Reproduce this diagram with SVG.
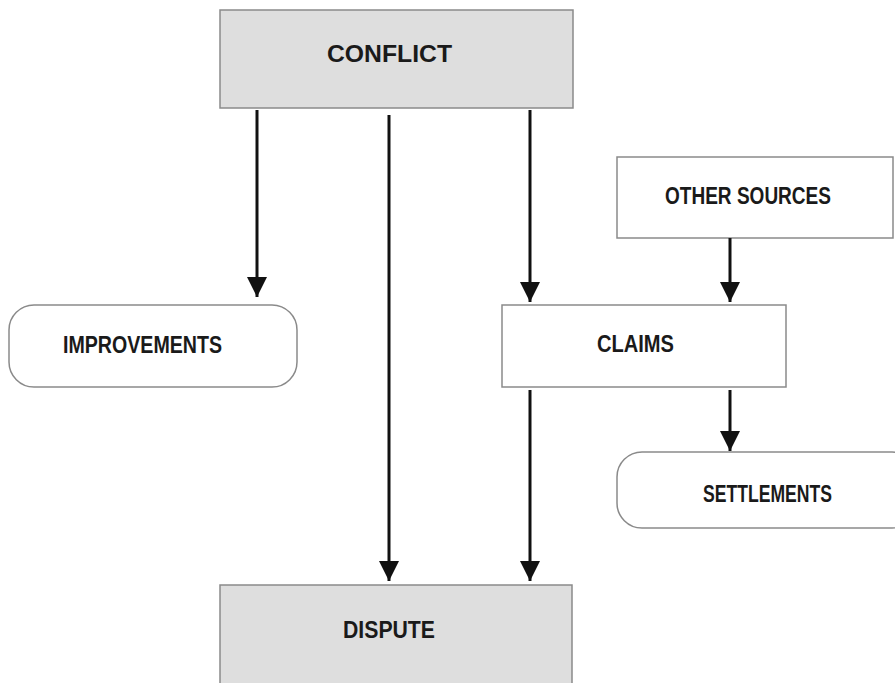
<svg xmlns="http://www.w3.org/2000/svg" width="895" height="683" viewBox="0 0 895 683">
<defs>
<style>
.box{fill:#ffffff;stroke:#8a8a8a;stroke-width:1.5}
.grey{fill:#dedede}
.lbl{font-family:"Liberation Sans",Arial,sans-serif;font-weight:bold;font-size:23px;fill:#1a1a1a}
.arr{stroke:#111;stroke-width:3;fill:none;marker-end:url(#ah)}
</style>
<marker id="ah" markerUnits="userSpaceOnUse" markerWidth="20" markerHeight="20" refX="20" refY="10" orient="auto" viewBox="0 0 20 20">
<path d="M0,0 L20,10 L0,20 z" fill="#111"/>
</marker>
</defs>
<rect width="895" height="683" fill="#ffffff"/>
<g id="conflict">
<rect class="box grey" x="220" y="10" width="353" height="98"/>
<text class="lbl" x="327" y="62" textLength="125" lengthAdjust="spacingAndGlyphs">CONFLICT</text>
</g>
<g id="other-sources">
<rect class="box" x="617" y="157" width="276" height="81"/>
<text class="lbl" x="665" y="204" textLength="166" lengthAdjust="spacingAndGlyphs">OTHER SOURCES</text>
</g>
<g id="improvements">
<rect class="box" x="9" y="305" width="288" height="82" rx="25" ry="25"/>
<text class="lbl" x="63" y="353" textLength="159" lengthAdjust="spacingAndGlyphs">IMPROVEMENTS</text>
</g>
<g id="claims">
<rect class="box" x="502" y="305" width="284" height="82"/>
<text class="lbl" x="597" y="352" textLength="77" lengthAdjust="spacingAndGlyphs">CLAIMS</text>
</g>
<g id="settlements">
<rect class="box" x="617" y="452" width="300" height="76" rx="25" ry="25"/>
<text class="lbl" x="703" y="502" textLength="129" lengthAdjust="spacingAndGlyphs">SETTLEMENTS</text>
</g>
<g id="dispute">
<rect class="box grey" x="220" y="585" width="352" height="120"/>
<text class="lbl" x="343" y="638" textLength="92" lengthAdjust="spacingAndGlyphs">DISPUTE</text>
</g>
<g id="connectors">
<line class="arr" x1="257" y1="110" x2="257" y2="297"/>
<line class="arr" x1="389" y1="115" x2="389" y2="581"/>
<line class="arr" x1="530" y1="110" x2="530" y2="302"/>
<line class="arr" x1="730" y1="238" x2="730" y2="302"/>
<line class="arr" x1="530" y1="390" x2="530" y2="581"/>
<line class="arr" x1="730" y1="390" x2="730" y2="451"/>
</g>
</svg>
